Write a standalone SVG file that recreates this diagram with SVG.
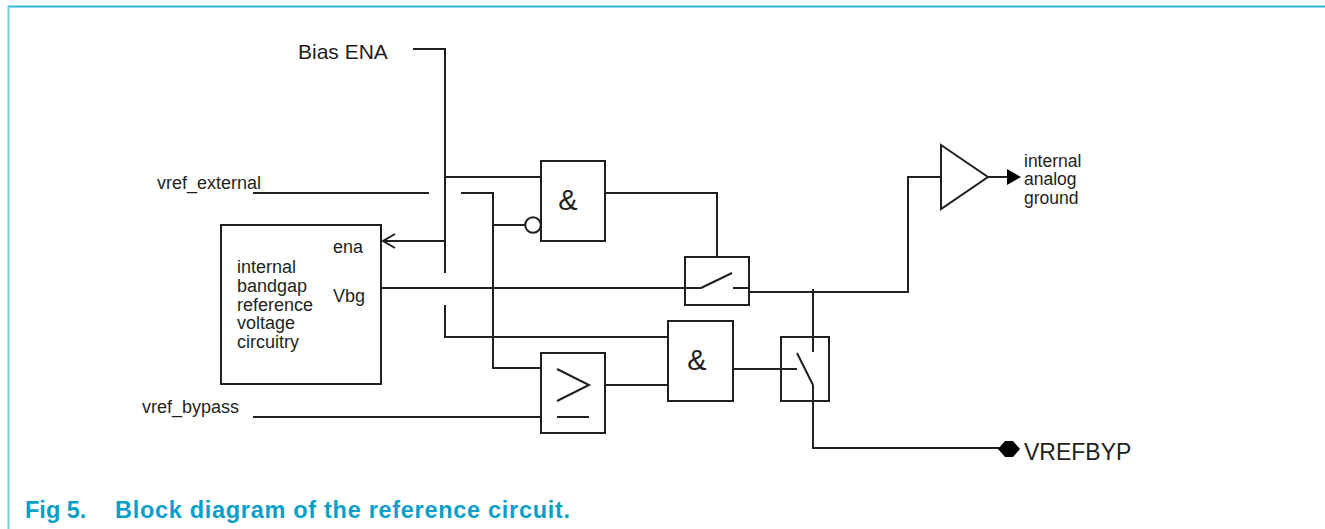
<svg xmlns="http://www.w3.org/2000/svg" width="1325" height="529" viewBox="0 0 1325 529">
<defs>
<style>
.w{fill:none;stroke:#231f20;stroke-width:2;stroke-linecap:butt}
.b{fill:#fff;stroke:#231f20;stroke-width:2}
.t{font-family:"Liberation Sans",Arial,sans-serif;fill:#231f20}
.l{font-size:18px}
.cap{font-family:"Liberation Sans",Arial,sans-serif;font-weight:bold;font-size:23.5px;fill:#0a9fc9}
</style>
</defs>
<rect width="1325" height="529" fill="#fff"/>
<g id="frame">
<line x1="8" y1="6.5" x2="1325" y2="6.5" stroke="#2bb5e0" stroke-width="2"/>
<line x1="8.5" y1="6" x2="8.5" y2="529" stroke="#7ccbe6" stroke-width="2"/>
</g>
<g id="connectors">
<path class="w" d="M413,49 H445 V273"/>
<path class="w" d="M445,305 V337 H668"/>
<path class="w" d="M445,177 H541"/>
<path class="w" d="M445,241 H383"/>
<path class="w" d="M395,234 L383,241 L395,248"/>
<path class="w" d="M253,193 H429"/>
<path class="w" d="M461,193 H493 V368 H541"/>
<path class="w" d="M493,225 H525"/>
<path class="w" d="M605,193 H717 V273"/>
<path class="w" d="M382,288 H701"/>
<path class="w" d="M749,292 H908 V177 H941"/>
<path class="w" d="M813,289 V352"/>
<path class="w" d="M813,385 V448 H1000"/>
<path class="w" d="M605,385 H668"/>
<path class="w" d="M253,417 H541"/>
<path class="w" d="M733,369 H797"/>
<path class="w" d="M988,177 H1008"/>
<path d="M1007,169 L1021,177 L1007,185 Z" fill="#000"/>
<path d="M998,449 L1005,441 L1013,441 L1020,449 L1013,457 L1005,457 Z" fill="#000"/>
</g>
<g id="bandgap">
<rect class="b" x="221" y="225" width="160" height="159"/>
<text class="t l" x="333" y="253">ena</text>
<text class="t l" x="333" y="302">Vbg</text>
<text class="t l" x="237" y="273">internal</text>
<text class="t l" x="237" y="292">bandgap</text>
<text class="t l" x="237" y="311">reference</text>
<text class="t l" x="237" y="329">voltage</text>
<text class="t l" x="237" y="348">circuitry</text>
</g>
<g id="and1">
<rect class="b" x="541" y="161" width="64" height="80"/>
<circle class="b" cx="533" cy="225" r="7.8"/>
<text class="t" x="568" y="210" font-size="29" text-anchor="middle">&amp;</text>
</g>
<g id="switch1">
<rect class="b" x="685" y="257" width="64" height="48"/>
<path class="w" d="M701,288 L732,273 M733,288 H749"/>
<path class="w" d="M685,288 H701"/>
</g>
<g id="comparator">
<rect class="b" x="541" y="353" width="64" height="80"/>
<path class="w" d="M557,369 L589,385 L557,401 M557,417 H589"/>
</g>
<g id="and2">
<rect class="b" x="668" y="321" width="65" height="80"/>
<text class="t" x="697" y="370" font-size="29" text-anchor="middle">&amp;</text>
</g>
<g id="switch2">
<rect class="b" x="781" y="337" width="48" height="64"/>
<path class="w" d="M781,369 H797 M797,353 L813,385 M813,337 V352 M813,385 V401"/>
</g>
<g id="buffer">
<path class="b" d="M941,145 L988,177 L941,209 Z"/>
</g>
<g id="labels">
<text class="t" x="298" y="59" font-size="21">Bias ENA</text>
<text class="t l" x="157" y="189">vref_external</text>
<text class="t l" x="142" y="413">vref_bypass</text>
<text class="t" x="1024" y="167" font-size="17.5">internal</text>
<text class="t" x="1024" y="185" font-size="17.5">analog</text>
<text class="t" x="1024" y="204" font-size="17.5">ground</text>
<text class="t" x="1024" y="460" font-size="23">VREFBYP</text>
</g>
<g id="caption">
<text class="cap" x="25" y="518">Fig 5.</text>
<text class="cap" x="115" y="518" textLength="455" lengthAdjust="spacing">Block diagram of the reference circuit.</text>
</g>
</svg>
